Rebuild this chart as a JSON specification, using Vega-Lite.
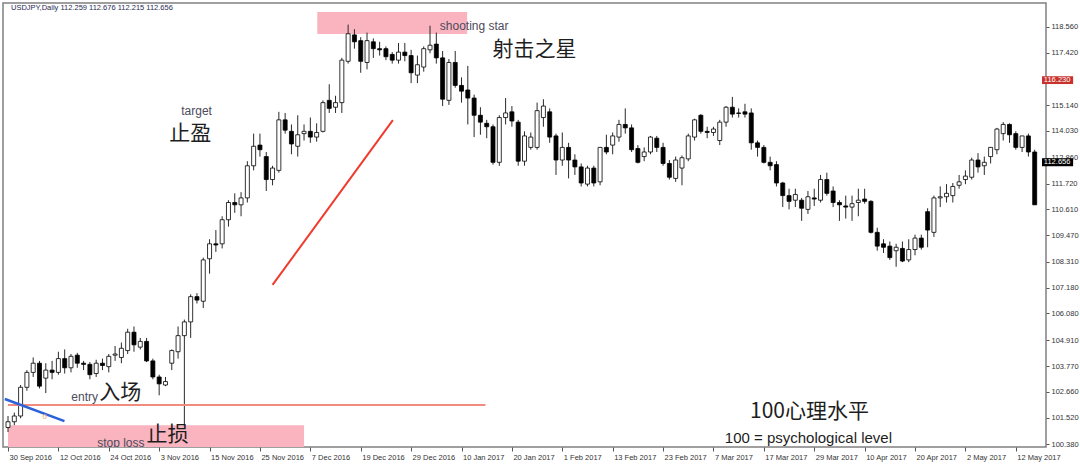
{
  "$schema": "https://vega.github.io/schema/vega-lite/v6.json",
  "width": 1043,
  "height": 444,
  "autosize": "none",
  "padding": {"left": 3, "top": 3, "right": 34, "bottom": 18},
  "background": "white",
  "config": {
    "view": {"stroke": "#808080", "strokeWidth": 1.5},
    "font": "Liberation Sans",
    "axis": {"labelOverlap": false, "labelFlush": false, "grid": false}
  },
  "datasets": {
    "candles": [
      {"i":0,"o":101.1,"h":101.6,"l":100.9,"c":101.35},
      {"i":1,"o":101.35,"h":101.75,"l":101.2,"c":101.6},
      {"i":2,"o":101.6,"h":102.95,"l":101.5,"c":102.85},
      {"i":3,"o":102.85,"h":103.6,"l":102.7,"c":103.5},
      {"i":4,"o":103.5,"h":104.15,"l":103.3,"c":103.9},
      {"i":5,"o":103.9,"h":104.0,"l":102.8,"c":102.9},
      {"i":6,"o":103.25,"h":103.9,"l":102.6,"c":103.6},
      {"i":7,"o":103.6,"h":104.0,"l":103.2,"c":103.5},
      {"i":8,"o":103.5,"h":104.4,"l":103.4,"c":104.1},
      {"i":9,"o":104.1,"h":104.5,"l":103.45,"c":103.7},
      {"i":10,"o":103.7,"h":104.3,"l":103.5,"c":104.2},
      {"i":11,"o":104.25,"h":104.35,"l":103.7,"c":103.9},
      {"i":12,"o":103.9,"h":104.0,"l":103.6,"c":103.85},
      {"i":13,"o":103.85,"h":103.95,"l":103.2,"c":103.4},
      {"i":14,"o":103.45,"h":104.05,"l":103.3,"c":103.9},
      {"i":15,"o":103.9,"h":104.1,"l":103.6,"c":103.8},
      {"i":16,"o":103.75,"h":104.3,"l":103.5,"c":104.2},
      {"i":17,"o":104.25,"h":104.65,"l":104.0,"c":104.3},
      {"i":18,"o":104.15,"h":104.8,"l":103.9,"c":104.55},
      {"i":19,"o":104.45,"h":105.4,"l":104.3,"c":105.25},
      {"i":20,"o":105.25,"h":105.5,"l":104.4,"c":104.7},
      {"i":21,"o":104.6,"h":105.0,"l":104.5,"c":104.85},
      {"i":22,"o":104.85,"h":105.0,"l":103.95,"c":104.0},
      {"i":23,"o":104.0,"h":104.1,"l":103.2,"c":103.3},
      {"i":24,"o":103.3,"h":103.4,"l":102.5,"c":103.0},
      {"i":25,"o":102.95,"h":103.3,"l":102.9,"c":103.1},
      {"i":26,"o":103.9,"h":104.5,"l":103.6,"c":104.45},
      {"i":27,"o":104.4,"h":105.5,"l":104.1,"c":105.1},
      {"i":28,"o":105.1,"h":105.8,"l":101.2,"c":105.7},
      {"i":29,"o":105.7,"h":106.9,"l":105.0,"c":106.8},
      {"i":30,"o":106.8,"h":106.95,"l":106.5,"c":106.65},
      {"i":31,"o":106.6,"h":108.5,"l":106.3,"c":108.4},
      {"i":32,"o":108.45,"h":109.3,"l":107.8,"c":109.1},
      {"i":33,"o":109.1,"h":109.7,"l":108.75,"c":109.05},
      {"i":34,"o":109.1,"h":110.3,"l":108.9,"c":110.15},
      {"i":35,"o":110.15,"h":111.0,"l":109.85,"c":110.9},
      {"i":36,"o":110.9,"h":111.3,"l":110.45,"c":110.8},
      {"i":37,"o":110.8,"h":111.35,"l":110.3,"c":111.1},
      {"i":38,"o":111.1,"h":112.7,"l":110.9,"c":112.5},
      {"i":39,"o":112.5,"h":113.9,"l":112.3,"c":113.35},
      {"i":40,"o":113.4,"h":113.9,"l":112.9,"c":113.2},
      {"i":41,"o":112.9,"h":113.1,"l":111.4,"c":111.9},
      {"i":42,"o":111.9,"h":112.5,"l":111.65,"c":112.4},
      {"i":43,"o":112.3,"h":114.85,"l":112.2,"c":114.5},
      {"i":44,"o":114.5,"h":114.8,"l":113.9,"c":114.05},
      {"i":45,"o":114.0,"h":114.3,"l":113.0,"c":113.45},
      {"i":46,"o":113.35,"h":114.7,"l":112.9,"c":113.85},
      {"i":47,"o":113.9,"h":114.3,"l":113.6,"c":114.0},
      {"i":48,"o":114.0,"h":114.6,"l":113.5,"c":113.75},
      {"i":49,"o":113.75,"h":114.35,"l":113.55,"c":113.95},
      {"i":50,"o":114.0,"h":115.35,"l":113.95,"c":115.25},
      {"i":51,"o":115.35,"h":116.05,"l":114.8,"c":115.0},
      {"i":52,"o":115.05,"h":115.55,"l":114.8,"c":115.25},
      {"i":53,"o":115.25,"h":117.2,"l":114.8,"c":117.1},
      {"i":54,"o":117.05,"h":118.65,"l":116.95,"c":118.25},
      {"i":55,"o":118.2,"h":118.45,"l":117.6,"c":117.9},
      {"i":56,"o":117.95,"h":118.1,"l":116.55,"c":117.05},
      {"i":57,"o":117.0,"h":118.3,"l":116.7,"c":117.95},
      {"i":58,"o":117.9,"h":118.05,"l":117.2,"c":117.6},
      {"i":59,"o":117.6,"h":117.9,"l":117.3,"c":117.55},
      {"i":60,"o":117.6,"h":117.7,"l":117.1,"c":117.25},
      {"i":61,"o":117.35,"h":117.45,"l":116.95,"c":117.1},
      {"i":62,"o":117.1,"h":117.85,"l":116.95,"c":117.45},
      {"i":63,"o":117.45,"h":117.85,"l":117.05,"c":117.3},
      {"i":64,"o":117.3,"h":117.55,"l":116.1,"c":116.55},
      {"i":65,"o":116.45,"h":117.3,"l":116.1,"c":116.9},
      {"i":66,"o":116.8,"h":117.7,"l":116.6,"c":117.6},
      {"i":67,"o":117.55,"h":118.6,"l":117.4,"c":117.75},
      {"i":68,"o":117.8,"h":118.3,"l":116.95,"c":117.2},
      {"i":69,"o":117.2,"h":117.5,"l":115.1,"c":115.4},
      {"i":70,"o":115.35,"h":117.15,"l":115.15,"c":117.0},
      {"i":71,"o":117.0,"h":117.5,"l":115.9,"c":116.0},
      {"i":72,"o":116.0,"h":116.35,"l":115.25,"c":115.75},
      {"i":73,"o":115.8,"h":116.85,"l":114.3,"c":115.45},
      {"i":74,"o":115.45,"h":115.6,"l":113.75,"c":114.7},
      {"i":75,"o":114.7,"h":115.05,"l":113.85,"c":114.4},
      {"i":76,"o":114.35,"h":114.5,"l":113.7,"c":114.2},
      {"i":77,"o":114.2,"h":114.3,"l":112.55,"c":112.65},
      {"i":78,"o":112.65,"h":114.7,"l":112.5,"c":114.6},
      {"i":79,"o":114.6,"h":115.45,"l":114.3,"c":114.8},
      {"i":80,"o":114.85,"h":115.1,"l":114.2,"c":114.45},
      {"i":81,"o":114.4,"h":114.5,"l":112.5,"c":112.7},
      {"i":82,"o":112.7,"h":114.0,"l":112.5,"c":113.8},
      {"i":83,"o":113.3,"h":113.95,"l":113.2,"c":113.75},
      {"i":84,"o":113.3,"h":115.25,"l":113.2,"c":114.9},
      {"i":85,"o":114.6,"h":115.4,"l":114.2,"c":115.1},
      {"i":86,"o":114.85,"h":115.0,"l":113.5,"c":113.75},
      {"i":87,"o":113.8,"h":113.9,"l":112.1,"c":112.75},
      {"i":88,"o":112.75,"h":113.95,"l":112.5,"c":113.3},
      {"i":89,"o":113.3,"h":113.5,"l":111.95,"c":112.75},
      {"i":90,"o":112.75,"h":113.0,"l":112.1,"c":112.45},
      {"i":91,"o":112.45,"h":112.6,"l":111.6,"c":111.75},
      {"i":92,"o":111.7,"h":112.5,"l":111.6,"c":112.4},
      {"i":93,"o":112.4,"h":112.5,"l":111.6,"c":111.75},
      {"i":94,"o":111.8,"h":113.3,"l":111.65,"c":113.3},
      {"i":95,"o":113.3,"h":113.85,"l":113.0,"c":113.1},
      {"i":96,"o":113.4,"h":113.95,"l":113.0,"c":113.8},
      {"i":97,"o":113.75,"h":114.5,"l":113.55,"c":114.3},
      {"i":98,"o":114.3,"h":115.0,"l":113.9,"c":114.15},
      {"i":99,"o":114.15,"h":114.3,"l":113.1,"c":113.2},
      {"i":100,"o":113.25,"h":113.4,"l":112.6,"c":112.65},
      {"i":101,"o":112.9,"h":113.3,"l":112.7,"c":113.1},
      {"i":102,"o":113.1,"h":113.8,"l":113.0,"c":113.75},
      {"i":103,"o":113.7,"h":113.8,"l":113.1,"c":113.3},
      {"i":104,"o":113.3,"h":113.5,"l":112.5,"c":112.6},
      {"i":105,"o":112.6,"h":112.75,"l":111.9,"c":112.0},
      {"i":106,"o":111.95,"h":112.9,"l":111.8,"c":112.75},
      {"i":107,"o":112.4,"h":112.95,"l":111.65,"c":112.85},
      {"i":108,"o":112.8,"h":113.9,"l":112.7,"c":113.8},
      {"i":109,"o":113.75,"h":114.55,"l":113.6,"c":114.5},
      {"i":110,"o":114.7,"h":114.75,"l":113.9,"c":114.0},
      {"i":111,"o":114.0,"h":114.2,"l":113.7,"c":113.95},
      {"i":112,"o":113.95,"h":114.2,"l":113.8,"c":114.1},
      {"i":113,"o":113.6,"h":114.5,"l":113.4,"c":114.4},
      {"i":114,"o":114.4,"h":115.1,"l":114.2,"c":115.05},
      {"i":115,"o":115.05,"h":115.5,"l":114.6,"c":114.75},
      {"i":116,"o":114.8,"h":115.0,"l":114.6,"c":114.78},
      {"i":117,"o":114.85,"h":115.2,"l":114.6,"c":114.75},
      {"i":118,"o":114.8,"h":115.0,"l":113.2,"c":113.5},
      {"i":119,"o":113.5,"h":113.6,"l":112.9,"c":113.3},
      {"i":120,"o":113.3,"h":113.4,"l":112.6,"c":112.65},
      {"i":121,"o":112.65,"h":112.9,"l":112.3,"c":112.5},
      {"i":122,"o":112.55,"h":112.7,"l":111.6,"c":111.75},
      {"i":123,"o":111.75,"h":111.8,"l":110.7,"c":111.2},
      {"i":124,"o":111.2,"h":111.5,"l":110.6,"c":110.95},
      {"i":125,"o":111.0,"h":111.5,"l":110.7,"c":111.25},
      {"i":126,"o":111.0,"h":111.1,"l":110.1,"c":110.65},
      {"i":127,"o":110.6,"h":111.4,"l":110.4,"c":111.15},
      {"i":128,"o":111.1,"h":111.5,"l":110.75,"c":111.05},
      {"i":129,"o":111.0,"h":112.1,"l":110.9,"c":111.9},
      {"i":130,"o":111.9,"h":112.2,"l":111.2,"c":111.3},
      {"i":131,"o":111.4,"h":111.6,"l":110.7,"c":110.9},
      {"i":132,"o":110.9,"h":111.0,"l":110.1,"c":110.8},
      {"i":133,"o":110.75,"h":111.2,"l":110.2,"c":110.7},
      {"i":134,"o":110.7,"h":111.2,"l":110.1,"c":110.85},
      {"i":135,"o":110.9,"h":111.5,"l":110.3,"c":111.0},
      {"i":136,"o":111.05,"h":111.5,"l":110.85,"c":110.95},
      {"i":137,"o":110.95,"h":111.0,"l":109.55,"c":109.6},
      {"i":138,"o":109.6,"h":109.8,"l":108.8,"c":109.0},
      {"i":139,"o":109.1,"h":109.3,"l":108.7,"c":108.95},
      {"i":140,"o":109.0,"h":109.2,"l":108.4,"c":108.5},
      {"i":141,"o":108.8,"h":109.1,"l":108.1,"c":108.95},
      {"i":142,"o":108.9,"h":109.2,"l":108.3,"c":108.35},
      {"i":143,"o":108.4,"h":109.3,"l":108.3,"c":108.85},
      {"i":144,"o":108.85,"h":109.5,"l":108.6,"c":109.35},
      {"i":145,"o":109.35,"h":109.5,"l":108.85,"c":108.95},
      {"i":146,"o":110.5,"h":110.65,"l":108.95,"c":109.7},
      {"i":147,"o":109.6,"h":111.2,"l":109.4,"c":111.1},
      {"i":148,"o":111.1,"h":111.6,"l":110.7,"c":111.15},
      {"i":149,"o":111.15,"h":111.7,"l":110.9,"c":111.3},
      {"i":150,"o":111.2,"h":111.75,"l":110.9,"c":111.6},
      {"i":151,"o":111.65,"h":112.1,"l":111.5,"c":111.8},
      {"i":152,"o":111.9,"h":112.3,"l":111.7,"c":112.05},
      {"i":153,"o":112.0,"h":112.85,"l":111.9,"c":112.75},
      {"i":154,"o":112.75,"h":113.05,"l":112.2,"c":112.45},
      {"i":155,"o":112.5,"h":112.9,"l":112.1,"c":112.65},
      {"i":156,"o":112.9,"h":113.3,"l":112.6,"c":113.3},
      {"i":157,"o":113.2,"h":114.15,"l":113.0,"c":114.1},
      {"i":158,"o":113.9,"h":114.4,"l":113.6,"c":114.3},
      {"i":159,"o":114.3,"h":114.35,"l":113.5,"c":113.85},
      {"i":160,"o":113.9,"h":114.0,"l":113.2,"c":113.3},
      {"i":161,"o":113.3,"h":113.8,"l":113.1,"c":113.8},
      {"i":162,"o":113.8,"h":113.9,"l":112.9,"c":113.1},
      {"i":163,"o":113.1,"h":113.2,"l":110.8,"c":110.8}
    ],
    "zones": [
      {"x1": 49.1, "x2": 72.9, "y1": 118.24, "y2": 119.2},
      {"x1": 0, "x2": 47.0, "y1": 100.25, "y2": 101.2}
    ],
    "entry": [{"x1": 0, "x2": 75.8, "y": 102.08}],
    "blue": [{"x1": -0.5, "x2": 8.96, "y1": 102.34, "y2": 101.38}],
    "diag": [{"x1": 42.0, "x2": 61.1, "y1": 107.31, "y2": 114.49}],
    "smallLabels": [
      {"x": 68.55, "y": 118.59, "t": "shooting star"},
      {"x": 27.5, "y": 114.9, "t": "target"},
      {"x": 10.06, "y": 102.42, "t": "entry"},
      {"x": 14.15, "y": 100.42, "t": "stop loss"}
    ],
    "cjkLabels": [
      {"x": 76.9, "y": 117.54, "t": "射击之星"},
      {"x": 25.6, "y": 113.9, "t": "止盈"},
      {"x": 14.47, "y": 102.6, "t": "入场"},
      {"x": 22.0, "y": 100.77, "t": "止损"},
      {"x": 117.8, "y": 101.77, "t": "100心理水平"}
    ],
    "psych": [{"x": 113.8, "y": 100.64, "t": "100 = psychological level"}],
    "header": [{"x": 0.47, "y": 119.37, "t": "USDJPY,Daily  112.259 112.676 112.215 112.656"}],
    "fractal": [{"x": 5.82, "y": 101.55, "t": "0"}],
    "redTag": [{"x1": 164.16, "x2": 169.1, "y1": 116.06, "y2": 116.4, "tx": 164.45, "ty": 116.23, "t": "116.230"}],
    "blackTag": [{"x1": 164.16, "x2": 169.1, "y1": 112.48, "y2": 112.83, "tx": 164.45, "ty": 112.656, "t": "112.656"}]
  },
  "layer": [
    {
      "data": {"name": "zones"},
      "mark": {"type": "rect", "color": "#f9b4bf", "opacity": 1},
      "encoding": {
        "x": {"field": "x1", "type": "quantitative", "scale": {"domain": [0, 164], "nice": false, "zero": false},
          "axis": {
            "values": [0,8,16,24,32,40,48,56,64,72,80,88,96,104,112,120,128,136,144,152,160],
            "tickCount": 40,
            "labelExpr": "['30 Sep 2016','12 Oct 2016','24 Oct 2016','3 Nov 2016','15 Nov 2016','25 Nov 2016','7 Dec 2016','19 Dec 2016','29 Dec 2016','10 Jan 2017','20 Jan 2017','1 Feb 2017','13 Feb 2017','23 Feb 2017','7 Mar 2017','17 Mar 2017','29 Mar 2017','10 Apr 2017','20 Apr 2017','2 May 2017','12 May 2017'][round(datum.value/8)]",
            "labelAlign": "left", "labelOffset": 1, "labelFontSize": 7.5, "labelColor": "#333333",
            "labelPadding": 2, "labelFlush": false, "labelOverlap": false, "labelBound": false,
            "tickSize": 4, "tickColor": "#555555", "tickWidth": 1, "domain": false, "grid": false, "title": null
          }},
        "x2": {"field": "x2"},
        "y": {"field": "y1", "type": "quantitative", "scale": {"domain": [100.25, 119.59], "nice": false, "zero": false},
          "axis": {
            "orient": "right",
            "values": [118.56,117.42,115.14,114.03,112.86,111.72,110.61,109.47,108.31,107.18,106.08,104.91,103.77,102.66,101.52,100.38],
            "tickCount": 40,
            "format": ".3f", "labelFontSize": 7.5, "labelColor": "#333333", "labelPadding": 2,
            "labelFlush": false, "labelOverlap": false, "tickSize": 3, "tickColor": "#555555",
            "domain": false, "grid": false, "title": null
          }},
        "y2": {"field": "y2"}
      }
    },
    {
      "mark": {"type": "rule", "color": "#c4c4c4", "strokeWidth": 1},
      "encoding": {"y": {"datum": 112.656, "type": "quantitative"}}
    },
    {
      "mark": {"type": "rule", "color": "#b23b36", "strokeWidth": 2},
      "encoding": {"y": {"datum": 116.23, "type": "quantitative"}}
    },
    {
      "data": {"name": "candles"},
      "mark": {"type": "rule", "color": "#2a2a2a", "strokeWidth": 1, "clip": true},
      "encoding": {
        "x": {"field": "i", "type": "quantitative"},
        "y": {"field": "l", "type": "quantitative"},
        "y2": {"field": "h"}
      }
    },
    {
      "data": {"name": "candles"},
      "mark": {"type": "bar", "orient": "vertical", "size": 4, "stroke": "#000000", "strokeWidth": 0.8, "clip": true},
      "encoding": {
        "x": {"field": "i", "type": "quantitative"},
        "y": {"field": "o", "type": "quantitative"},
        "y2": {"field": "c"},
        "fill": {"condition": {"test": "datum.c >= datum.o", "value": "#ffffff"}, "value": "#000000"}
      }
    },
    {
      "data": {"name": "entry"},
      "mark": {"type": "rule", "color": "#f28a7e", "strokeWidth": 2},
      "encoding": {
        "x": {"field": "x1", "type": "quantitative"},
        "x2": {"field": "x2"},
        "y": {"field": "y", "type": "quantitative"}
      }
    },
    {
      "data": {"name": "blue"},
      "mark": {"type": "rule", "color": "#2b62d8", "strokeWidth": 2.5, "clip": true},
      "encoding": {
        "x": {"field": "x1", "type": "quantitative"},
        "x2": {"field": "x2"},
        "y": {"field": "y1", "type": "quantitative"},
        "y2": {"field": "y2"}
      }
    },
    {
      "data": {"name": "diag"},
      "mark": {"type": "rule", "color": "#ef3b2d", "strokeWidth": 2},
      "encoding": {
        "x": {"field": "x1", "type": "quantitative"},
        "x2": {"field": "x2"},
        "y": {"field": "y1", "type": "quantitative"},
        "y2": {"field": "y2"}
      }
    },
    {
      "data": {"name": "fractal"},
      "mark": {"type": "text", "fontSize": 8, "color": "#f3a05e", "align": "center", "baseline": "middle"},
      "encoding": {
        "x": {"field": "x", "type": "quantitative"},
        "y": {"field": "y", "type": "quantitative"},
        "text": {"field": "t"}
      }
    },
    {
      "data": {"name": "smallLabels"},
      "mark": {"type": "text", "fontSize": 12, "font": "Liberation Sans", "color": "#4d4a5c", "align": "left", "baseline": "middle", "clip": true},
      "encoding": {
        "x": {"field": "x", "type": "quantitative"},
        "y": {"field": "y", "type": "quantitative"},
        "text": {"field": "t"}
      }
    },
    {
      "data": {"name": "cjkLabels"},
      "mark": {"type": "text", "fontSize": 21, "font": "Noto Sans CJK SC", "color": "#1e1e1e", "align": "left", "baseline": "middle"},
      "encoding": {
        "x": {"field": "x", "type": "quantitative"},
        "y": {"field": "y", "type": "quantitative"},
        "text": {"field": "t"}
      }
    },
    {
      "data": {"name": "psych"},
      "mark": {"type": "text", "fontSize": 15, "font": "Liberation Sans", "color": "#1e1e1e", "align": "left", "baseline": "middle"},
      "encoding": {
        "x": {"field": "x", "type": "quantitative"},
        "y": {"field": "y", "type": "quantitative"},
        "text": {"field": "t"}
      }
    },
    {
      "data": {"name": "header"},
      "mark": {"type": "text", "fontSize": 7.5, "font": "Liberation Sans", "color": "#1f2b55", "align": "left", "baseline": "middle"},
      "encoding": {
        "x": {"field": "x", "type": "quantitative"},
        "y": {"field": "y", "type": "quantitative"},
        "text": {"field": "t"}
      }
    },
    {
      "data": {"name": "redTag"},
      "mark": {"type": "rect", "color": "#c8322d"},
      "encoding": {
        "x": {"field": "x1", "type": "quantitative"},
        "x2": {"field": "x2"},
        "y": {"field": "y1", "type": "quantitative"},
        "y2": {"field": "y2"}
      }
    },
    {
      "data": {"name": "redTag"},
      "mark": {"type": "text", "fontSize": 7.5, "color": "#ffffff", "align": "left", "baseline": "middle"},
      "encoding": {
        "x": {"field": "tx", "type": "quantitative"},
        "y": {"field": "ty", "type": "quantitative"},
        "text": {"field": "t"}
      }
    },
    {
      "data": {"name": "blackTag"},
      "mark": {"type": "rect", "color": "#000000"},
      "encoding": {
        "x": {"field": "x1", "type": "quantitative"},
        "x2": {"field": "x2"},
        "y": {"field": "y1", "type": "quantitative"},
        "y2": {"field": "y2"}
      }
    },
    {
      "data": {"name": "blackTag"},
      "mark": {"type": "text", "fontSize": 7.5, "color": "#ffffff", "align": "left", "baseline": "middle"},
      "encoding": {
        "x": {"field": "tx", "type": "quantitative"},
        "y": {"field": "ty", "type": "quantitative"},
        "text": {"field": "t"}
      }
    }
  ]
}
